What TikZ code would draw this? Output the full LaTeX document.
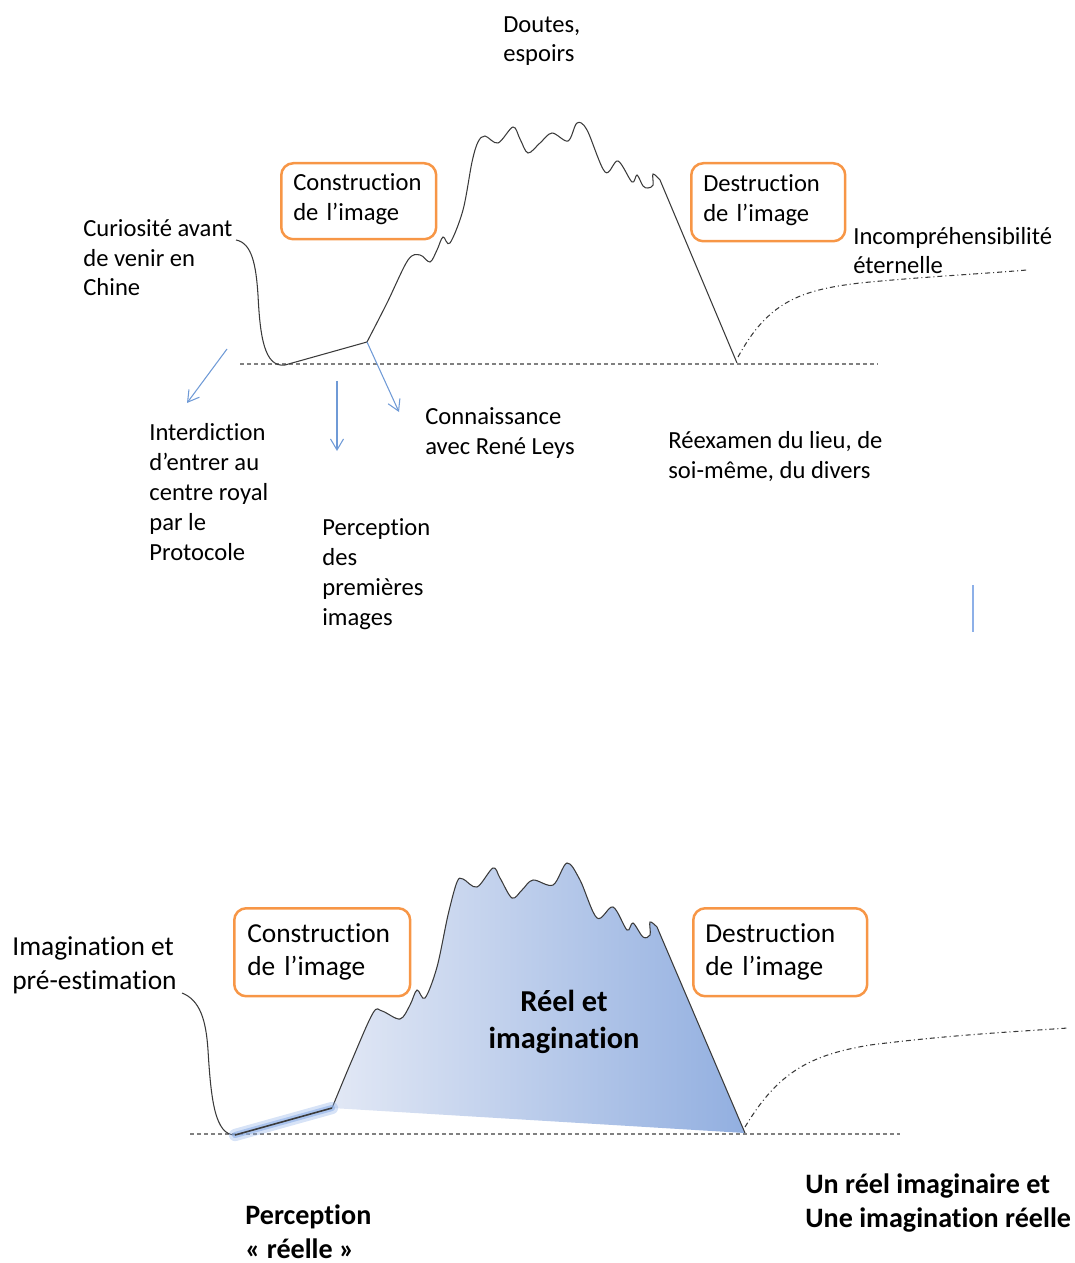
\documentclass[tikz,border=0pt]{standalone}
\usepackage{fontspec}
\setmainfont{Carlito}[Ligatures=NoCommon]
\usetikzlibrary{arrows.meta}
\definecolor{orangebox}{HTML}{F79646}
\definecolor{arrowblue}{HTML}{6F9AD6}
\definecolor{curvecol}{HTML}{3A3A3A}
\definecolor{basegray}{HTML}{808080}
\definecolor{fillleft}{HTML}{E2E8F5}
\definecolor{fillright}{HTML}{92AFE0}
\definecolor{glowblue}{HTML}{8DB0E8}
\tikzset{
  txt/.style={font=\fontsize{14pt}{17.07pt}\selectfont, align=left, anchor=base west, inner sep=0pt},
  txtl/.style={font=\fontsize{15.6pt}{18.8pt}\selectfont, align=left, anchor=base west, inner sep=0pt},
  txtbold/.style={font=\bfseries\fontsize{16pt}{18.8pt}\selectfont, align=left, anchor=base west, inner sep=0pt},
  imgbox/.style={draw=orangebox, line width=0.05cm, rounded corners=0.24cm, align=left,
    inner xsep=0.24cm, inner ysep=0pt, anchor=north west},
  curveline/.style={draw=curvecol, line width=0.6pt},
  groundline/.style={draw=basegray, line width=0.6pt, dash pattern=on 0.08cm off 0.06cm},
  dashdotline/.style={draw=curvecol, line width=0.6pt, dash pattern=on 0.1cm off 0.06cm on 0.02cm off 0.06cm},
  bluearrow/.style={draw=arrowblue, line width=0.6pt, -{Straight Barb[length=2.2mm,width=2.6mm]}}
}
\begin{document}
\begin{tikzpicture}[x=0.02cm,y=-0.02cm]
\useasboundingbox (0,0) rectangle (1074,1263);

% ---------------- TOP DIAGRAM ----------------
% (base anchor of a multi-line node = baseline of its last line)
\node[txt] (doutes) at (503,62) {Doutes,\\espoirs};
\node[imgbox, font=\fontsize{14pt}{17.07pt}\selectfont, text width=2.62cm, minimum height=1.52cm] (cons1) at (280,162) {Construction\\de l’image\vspace{2pt}};
\node[imgbox, font=\fontsize{14pt}{17.07pt}\selectfont, text width=2.6cm, minimum height=1.56cm] (dest1) at (690,162) {Destruction\\de l’image\vspace{2pt}};
\node[txt] (curio) at (83,296) {Curiosité avant\\de venir en\\Chine};
\node[txt] (incomp) at (853,274) {Incompréhensibilité\\éternelle};
\node[txt] (interd) at (149,560) {Interdiction\\d’entrer au\\centre royal\\par le\\Protocole};
\node[txt] (connais) at (425,454) {Connaissance\\avec René Leys};
\node[txt] (percep) at (322,625) {Perception\\des\\premières\\images};
\node[txt] (reexam) at (668,478) {Réexamen du lieu, de\\soi-même, du divers};

\coordinate (c0) at (236,240);
\coordinate (low1) at (285,365);
\coordinate (knee1) at (367,342);
\coordinate (end1) at (737,363);
\coordinate (gl1) at (240,364);
\coordinate (gr1) at (877,364);

\draw[groundline] (gl1) -- (gr1);
\draw[curveline] (c0) .. controls (252,243) and (256,265) .. (258,295)
  .. controls (260,335) and (264,368) .. (low1) -- (knee1);
\draw[curveline] plot[smooth, tension=0.55] coordinates {
  (367,342) (387,303) (408,260) (420,255) (430,262) (437,250) (443,237) (450,243)
  (463,210) (472,162) (478,142) (485,136) (498,143) (513,127) (520,139) (528,153)
  (540,143) (552,133) (568,141) (577,123) (587,130) (605,172) (618,161) (632,182)
  (637,175) (643,186) (648,188) (653,185) (653,174) (660,180)} -- (end1);
\draw[dashdotline] (738,357) .. controls (768,302) and (800,290) .. (860,283)
  .. controls (920,277) and (980,274) .. (1027,270);

\coordinate (a1s) at (227,349);
\coordinate (a1e) at (187,403);
\coordinate (a2s) at (337,381);
\coordinate (a2e) at (337,451);
\coordinate (a3e) at (399,412);
\draw[bluearrow] (a1s) -- (a1e);
\draw[bluearrow] (a2s) -- (a2e);
\draw[bluearrow] (knee1) -- (a3e);

\coordinate (vb1) at (973,585);
\coordinate (vb2) at (973,632);
\draw[draw=glowblue, line width=1.2pt] (vb1) -- (vb2);

% ---------------- BOTTOM DIAGRAM ----------------
\coordinate (k2) at (332,1108);
\coordinate (end2) at (745,1133);
\coordinate (low2) at (235,1135);

\shade[left color=fillleft, right color=fillright]
  plot[smooth, tension=0.55] coordinates {
  (332,1108) (352,1060) (373,1013) (382,1011) (400,1019) (410,1005) (417,990) (425,998)
  (437,967) (448,915) (457,882) (463,879) (477,887) (493,868) (500,878) (512,898)
  (522,890) (533,880) (553,885) (567,863) (580,880) (597,918) (613,907) (627,930)
  (633,923) (643,937) (650,935) (650,922) (657,927)} -- (end2) -- cycle;
\draw[curveline] plot[smooth, tension=0.55] coordinates {
  (332,1108) (352,1060) (373,1013) (382,1011) (400,1019) (410,1005) (417,990) (425,998)
  (437,967) (448,915) (457,882) (463,879) (477,887) (493,868) (500,878) (512,898)
  (522,890) (533,880) (553,885) (567,863) (580,880) (597,918) (613,907) (627,930)
  (633,923) (643,937) (650,935) (650,922) (657,927)} -- (end2);

\coordinate (gl2) at (190,1134);
\coordinate (gr2) at (900,1134);
\draw[groundline] (gl2) -- (gr2);

\coordinate (c2) at (182,993);
\draw[curveline] (c2) .. controls (200,1000) and (206,1020) .. (208,1050)
  .. controls (211,1100) and (215,1135) .. (low2);
\draw[draw=glowblue, opacity=0.35, line width=7pt, line cap=round] (low2) -- (k2);
\draw[draw=glowblue, opacity=0.6, line width=3.5pt, line cap=round] (low2) -- (k2);
\draw[curveline, line width=0.9pt] (low2) -- (k2);

\draw[dashdotline] (745,1127) .. controls (778,1072) and (810,1055) .. (870,1045)
  .. controls (950,1035) and (1010,1032) .. (1068,1028);

\node[txtl] (imag) at (12,989) {Imagination et\\pré-estimation};
\node[imgbox, font=\fontsize{15.6pt}{18.8pt}\selectfont, text width=3.0cm, minimum height=1.76cm, inner xsep=0.26cm] (cons2) at (233,907) {Construction\\de l’image};
\node[imgbox, font=\fontsize{15.6pt}{18.8pt}\selectfont, text width=3.0cm, minimum height=1.76cm] (dest2) at (692,907) {Destruction\\de l’image};
\node[font=\bfseries\fontsize{17.3pt}{21pt}\selectfont, align=center, anchor=base, inner sep=0pt] (reel) at (564,1048) {Réel et\\imagination};
\node[txtbold] (percep2) at (245,1258) {Perception\\« réelle »};
\node[txtbold] (unreel) at (805,1227) {Un réel imaginaire et\\Une imagination réelle};
\end{tikzpicture}
\end{document}
